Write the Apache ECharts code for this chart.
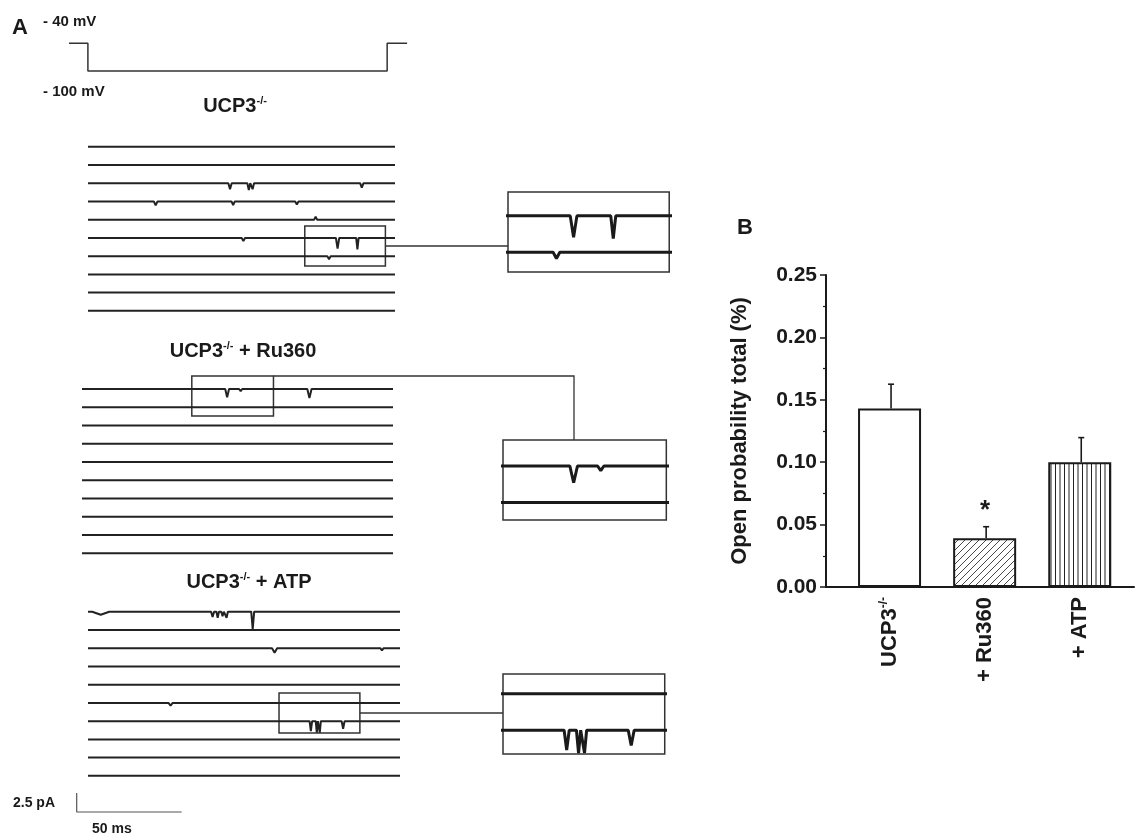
<!DOCTYPE html>
<html><head><meta charset="utf-8">
<script src="https://cdn.jsdelivr.net/npm/echarts@6/dist/echarts.min.js"></script>
<style>html,body{margin:0;padding:0;background:#fff}#c{width:1138px;height:837px}</style>
</head><body><div id="c"></div>
<script>
// ================= DATA =================
// Voltage protocol (ms, mV)
const stepTimes = [-9, 0, 0, 142.5, 142.5, 152];
const stepVolts = [-40, -40, -100, -100, -40, -40];
const stepLabels = ['- 40 mV', '- 100 mV'];

// Sweeps
const sweepDuration = 147;   // ms
const sweepSpacing = 2.4;    // pA between stacked sweeps
const sweepCount = 10;

// Channel events: [sweep, time (ms), amplitude (pA), width (ms)]
const eventsUCP3 = [
  [2, 68.0, -0.8, 1.6], [2, 77.0, -0.9, 1.4], [2, 78.8, -0.8, 1.4], [2, 131.1, -0.6, 1.6],
  [3, 32.4, -0.5, 1.8], [3, 69.5, -0.5, 1.6], [3, 100.0, -0.4, 1.6],
  [4, 109.0, 0.4, 1.4],
  [5, 74.4, -0.4, 1.6], [5, 119.5, -1.4, 1.6], [5, 129.0, -1.5, 1.2],
  [6, 115.4, -0.4, 1.6]
];
const eventsRu360 = [
  [0, 68.6, -1.1, 1.8], [0, 75.0, -0.3, 1.5], [0, 107.5, -1.2, 2.0]
];
const eventsATP = [
  [0, 6.0, -0.4, 8.0], [0, 58.7, -0.7, 1.4], [0, 61.1, -0.8, 1.2], [0, 63.4, -0.6, 1.2],
  [0, 65.3, -0.8, 1.2], [0, 77.6, -2.3, 1.4],
  [2, 87.9, -0.6, 2.4], [2, 138.5, -0.3, 1.6],
  [5, 38.9, -0.35, 2.0],
  [6, 105.0, -1.3, 1.2], [6, 107.8, -1.5, 1.0], [6, 109.2, -1.5, 1.0], [6, 120.2, -1.0, 1.4]
];
const groupTitles = ['UCP3-/-', 'UCP3-/- + Ru360', 'UCP3-/- + ATP'];

// Scale bar
const scaleBarPA = 2.5;
const scaleBarMS = 50;

// Panel B
const categories = ['UCP3-/-', '+ Ru360', '+ ATP'];
const openProb = [0.143, 0.039, 0.100];
const openProbSEM = [0.0195, 0.0093, 0.0197];
const significance = ['', '*', ''];
const yAxisName = 'Open probability total (%)';

// ================= LAYOUT / STYLE =================
const FONT = '"Liberation Sans", Arial, sans-serif';
const INK = '#1a1a1a';
const pxPerPA = 7.6;
const pxPerMs = 2.1;

const groups = [
  { events: eventsUCP3, left: 88, width: 307, y0: 146.7, titleX: 235, titleY: 106,
    zoom: { t0: 103.8, t1: 142.4, v0: -15.7, v1: -10.43, insetLeft: 508, insetTop: 192, connector: 'mid' } },
  { events: eventsRu360, left: 82, width: 311, y0: 389, titleX: 243, titleY: 351,
    zoom: { t0: 51.9, t1: 90.5, v0: -3.55, v1: 1.71, insetLeft: 503, insetTop: 440, connector: 'elbow', elbowX: 574 } },
  { events: eventsATP, left: 88, width: 312, y0: 611.7, titleX: 249, titleY: 582,
    zoom: { t0: 90, t1: 128.1, v0: -15.96, v1: -10.7, insetLeft: 503, insetTop: 674, connector: 'mid' } }
];

function sweepPoints(events, k) {
  const base = -k * sweepSpacing;
  const evs = events.filter(e => e[0] === k).sort((a, b) => a[1] - b[1]);
  const pts = [[0, base]];
  evs.forEach(([s, t, a, w]) => { pts.push([t - w / 2, base], [t, base + a], [t + w / 2, base]); });
  pts.push([sweepDuration, base]);
  return pts;
}

function richSup(s) {
  const parts = s.split('-/-');
  let out = '';
  parts.forEach((p, i) => {
    if (p) out += '{b|' + p + '}';
    if (i < parts.length - 1) out += '{s|-/-}';
  });
  return out;
}

const grids = [], xAxes = [], yAxes = [], series = [];
function addGrid(g, x, y) {
  grids.push(Object.assign({ containLabel: false }, g));
  const i = grids.length - 1;
  xAxes.push(Object.assign({ gridIndex: i, show: false, splitLine: { show: false } }, x));
  yAxes.push(Object.assign({ gridIndex: i, show: false, splitLine: { show: false } }, y));
  return i;
}

// Voltage step
const tMin = stepTimes[0], tMax = stepTimes[stepTimes.length - 1];
const vMinStep = Math.min(...stepVolts), vMaxStep = Math.max(...stepVolts);
const gStep = addGrid({ left: 69, top: 43.3, width: (tMax - tMin) * pxPerMs, height: 27.7 },
  { type: 'value', min: tMin, max: tMax }, { type: 'value', min: vMinStep, max: vMaxStep });
series.push({ type: 'line', xAxisIndex: gStep, yAxisIndex: gStep, data: stepTimes.map((t, i) => [t, stepVolts[i]]),
  symbol: 'none', clip: false, lineStyle: { color: '#333', width: 1.5 }, silent: true });

// Sweeps and insets
const vTop = 2, vBot = -(sweepCount - 1) * sweepSpacing - 2.5;
groups.forEach(g => {
  g.gi = addGrid({ left: g.left, top: g.y0 - vTop * pxPerPA, width: g.width, height: (vTop - vBot) * pxPerPA },
    { type: 'value', min: 0, max: sweepDuration }, { type: 'value', min: vBot, max: vTop });
  for (let k = 0; k < sweepCount; k++) {
    series.push({ type: 'line', xAxisIndex: g.gi, yAxisIndex: g.gi, data: sweepPoints(g.events, k),
      symbol: 'none', lineStyle: { color: '#222', width: 2 }, silent: true });
  }
  const z = g.zoom;
  const msScale = g.width / sweepDuration;
  z.gi = addGrid({ left: z.insetLeft, top: z.insetTop, width: (z.t1 - z.t0) * msScale * 2,
      height: (z.v1 - z.v0) * pxPerPA * 2, show: true, borderColor: '#333', borderWidth: 1.5, backgroundColor: '#fff' },
    { type: 'value', min: z.t0, max: z.t1 }, { type: 'value', min: z.v0, max: z.v1 });
  for (let k = 0; k < sweepCount; k++) {
    const base = -k * sweepSpacing;
    if (base >= z.v0 && base <= z.v1) {
      series.push({ type: 'line', xAxisIndex: z.gi, yAxisIndex: z.gi, data: sweepPoints(g.events, k), clip: true,
        symbol: 'none', lineStyle: { color: INK, width: 3 }, silent: true });
    }
  }
});

// Scale bar
const gScale = addGrid({ left: 76.7, top: 793, width: scaleBarMS * pxPerMs, height: scaleBarPA * pxPerPA },
  { type: 'value', min: 0, max: scaleBarMS }, { type: 'value', min: 0, max: scaleBarPA });
series.push({ type: 'line', xAxisIndex: gScale, yAxisIndex: gScale, clip: false,
  data: [[0, scaleBarPA], [0, 0], [scaleBarMS, 0]], symbol: 'none', lineStyle: { color: '#555', width: 1.2 }, silent: true });

// Panel B patterns
function makePattern(kind) {
  const c = document.createElement('canvas');
  const ctx = c.getContext('2d');
  if (kind === 'diag') {
    c.width = 7; c.height = 7;
    ctx.fillStyle = '#fff'; ctx.fillRect(0, 0, 7, 7);
    ctx.strokeStyle = '#333'; ctx.lineWidth = 0.9;
    ctx.beginPath();
    ctx.moveTo(-1, 8); ctx.lineTo(8, -1);
    ctx.moveTo(-1, 1); ctx.lineTo(1, -1);
    ctx.moveTo(6, 8); ctx.lineTo(8, 6);
    ctx.stroke();
  } else {
    c.width = 9; c.height = 4;
    ctx.fillStyle = '#fff'; ctx.fillRect(0, 0, 9, 4);
    ctx.strokeStyle = '#222'; ctx.lineWidth = 1;
    ctx.beginPath();
    ctx.moveTo(2.5, 0); ctx.lineTo(2.5, 4);
    ctx.moveTo(7, 0); ctx.lineTo(7, 4);
    ctx.stroke();
  }
  return { image: c, repeat: 'repeat' };
}
const barFills = ['#ffffff', makePattern('diag'), makePattern('vert')];

const gBar = addGrid({ left: 842, top: 275, width: 285.3, height: 312 },
  { type: 'category', data: categories, show: true, axisLine: { show: false }, axisTick: { show: false },
    axisLabel: { rotate: 90, margin: 10, color: INK, formatter: v => richSup(v),
      rich: { b: { fontSize: 22, fontWeight: 'bold', fontFamily: FONT, color: INK, lineHeight: 24 },
              s: { fontSize: 12, fontWeight: 'bold', fontFamily: FONT, color: INK, lineHeight: 12, verticalAlign: 'top' } } } },
  { type: 'value', min: 0, max: 0.25 });
const gAxis = addGrid({ left: 826, top: 275, width: 308, height: 312 },
  { type: 'value', min: 0, max: 1, show: true, axisLine: { show: true, onZero: false, lineStyle: { color: INK, width: 2 } },
    axisTick: { show: false }, axisLabel: { show: false } },
  { type: 'value', min: 0, max: 0.25, interval: 0.05, show: true,
    axisLine: { show: true, lineStyle: { color: INK, width: 2 } },
    axisTick: { show: true, length: 6, lineStyle: { color: INK, width: 1.5 } },
    minorTick: { show: true, splitNumber: 2, length: 3, lineStyle: { color: INK, width: 1.2 } },
    axisLabel: { margin: 9, color: INK, fontSize: 21, fontWeight: 'bold', fontFamily: FONT, formatter: v => v.toFixed(2) },
    name: yAxisName, nameLocation: 'middle', nameGap: 75,
    nameTextStyle: { color: INK, fontSize: 22, fontWeight: 'bold', fontFamily: FONT } });

series.push({ type: 'bar', xAxisIndex: gBar, yAxisIndex: gBar, barWidth: 63,
  data: openProb.map((v, i) => ({ value: v, itemStyle: { color: barFills[i], borderColor: INK, borderWidth: 2 } })),
  silent: true });
series.push({ type: 'custom', xAxisIndex: gBar, yAxisIndex: gBar, silent: true,
  data: openProb.map((v, i) => [i, v, v + openProbSEM[i]]),
  renderItem: (params, api) => {
    const i = api.value(0);
    const b = api.coord([i, api.value(1)]);
    const t = api.coord([i, api.value(2)]);
    const x = b[0] + 1.5;
    const ch = [
      { type: 'line', shape: { x1: x, y1: b[1], x2: x, y2: t[1] }, style: { stroke: INK, lineWidth: 1.6 } },
      { type: 'line', shape: { x1: x - 3, y1: t[1], x2: x + 3, y2: t[1] }, style: { stroke: INK, lineWidth: 1.6 } }
    ];
    const sig = significance[i];
    if (sig) ch.push({ type: 'text', style: { text: sig, x: x - 1, y: t[1] - 16, align: 'center', verticalAlign: 'middle',
      font: 'bold 26px ' + FONT, fill: INK } });
    return { type: 'group', children: ch };
  } });

const chart = echarts.init(document.getElementById('c'), null, { renderer: 'canvas' });
chart.setOption({ animation: false, backgroundColor: '#fff', grid: grids, xAxis: xAxes, yAxis: yAxes, series: series });

// ================= GRAPHIC (labels, zoom boxes, connectors) =================
const els = [];
function txt(text, x, y, size, align) {
  els.push({ type: 'text', silent: true, style: { text: text, x: x, y: y, align: align || 'left', verticalAlign: 'middle',
    font: 'bold ' + size + 'px ' + FONT, fill: INK } });
}
txt('A', 12, 28, 22);
txt(stepLabels[0], 43, 22, 15);
txt(stepLabels[1], 43, 92, 15);
txt('B', 737, 228, 22);
txt(scaleBarPA + ' pA', 13, 803, 14);
txt(scaleBarMS + ' ms', 92, 829, 14);

groups.forEach((g, gi) => {
  els.push({ type: 'text', silent: true, style: { text: richSup(groupTitles[gi]), x: g.titleX, y: g.titleY,
    align: 'center', verticalAlign: 'middle', fill: INK,
    rich: { b: { fontSize: 20, fontWeight: 'bold', fontFamily: FONT, fill: INK, lineHeight: 22 },
            s: { fontSize: 11, fontWeight: 'bold', fontFamily: FONT, fill: INK, lineHeight: 11, verticalAlign: 'top' } } } });
  const z = g.zoom;
  const p0 = chart.convertToPixel({ xAxisIndex: g.gi, yAxisIndex: g.gi }, [z.t0, z.v1]);
  const p1 = chart.convertToPixel({ xAxisIndex: g.gi, yAxisIndex: g.gi }, [z.t1, z.v0]);
  els.push({ type: 'rect', silent: true, shape: { x: p0[0], y: p0[1], width: p1[0] - p0[0], height: p1[1] - p0[1] },
    style: { fill: 'none', stroke: '#333', lineWidth: 1.5 } });
  let pts;
  if (z.connector === 'mid') {
    const ym = (p0[1] + p1[1]) / 2;
    pts = [[p1[0], ym], [z.insetLeft, ym]];
  } else {
    pts = [[p1[0], p0[1]], [z.elbowX, p0[1]], [z.elbowX, z.insetTop]];
  }
  els.push({ type: 'polyline', silent: true, shape: { points: pts }, style: { fill: 'none', stroke: '#333', lineWidth: 1.3 } });
});
chart.setOption({ graphic: { elements: els } });
</script>
</body></html>
